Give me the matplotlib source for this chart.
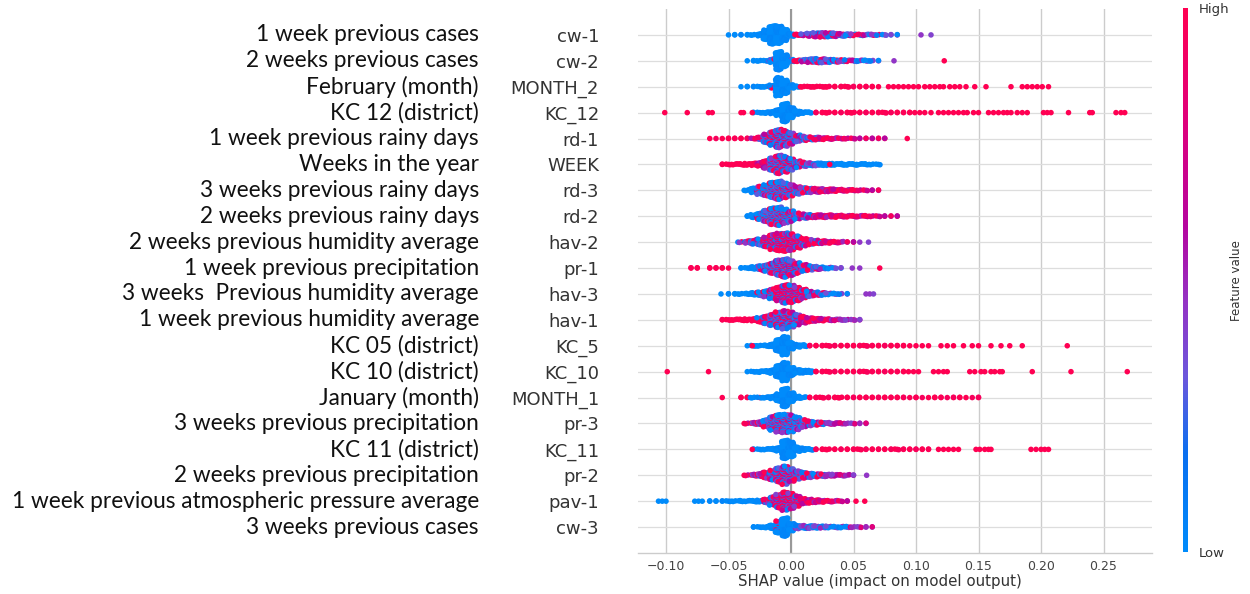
import numpy as np
import matplotlib
matplotlib.use("Agg")
import matplotlib.pyplot as plt
from matplotlib.colors import LinearSegmentedColormap, Normalize
from matplotlib.cm import ScalarMappable
from matplotlib.transforms import blended_transform_factory

# ---------------- data ----------------
features = ["cw-1", "cw-2", "MONTH_2", "KC_12", "rd-1", "WEEK", "rd-3", "rd-2",
            "hav-2", "pr-1", "hav-3", "hav-1", "KC_5", "KC_10", "MONTH_1",
            "pr-3", "KC_11", "pr-2", "pav-1", "cw-3"]
descriptions = ["1 week previous cases", "2 weeks previous cases", "February (month)",
                "KC 12 (district)", "1 week previous rainy days", "Weeks in the year",
                "3 weeks previous rainy days", "2 weeks previous rainy days",
                "2 weeks previous humidity average", "1 week previous precipitation",
                "3 weeks  Previous humidity average", "1 week previous humidity average",
                "KC 05 (district)", "KC 10 (district)", "January (month)",
                "3 weeks previous precipitation", "KC 11 (district)",
                "2 weeks previous precipitation",
                "1 week previous atmospheric pressure average", "3 weeks previous cases"]
tick_values = [-0.10, -0.05, 0.00, 0.05, 0.10, 0.15, 0.20, 0.25]
tick_labels = ["\u22120.10", "\u22120.05", "0.00", "0.05", "0.10", "0.15", "0.20", "0.25"]

# SHAP-value histograms per feature: first bin centre, counts per 0.005 bin,
# feature-value mix per bin (run lengths), and isolated points (shap, feature value)
BIN = 0.005
cw1_start = -0.050
cw1_counts = [1, 2, 2, 2, 3, 8, 32, 61, 58, 38, 9, 4, 6, 10, 14, 15, 14, 12, 9, 7, 6, 5, 4, 4, 3, 3, 2, 2]
cw1_mix = [("b", 11), ("r", 1), ("m", 13), ("v", 3)]
cw1_ex_x = [0.104, 0.112]
cw1_ex_v = [0.45, 0.40]

cw2_start = -0.035
cw2_counts = [1, 2, 3, 3, 12, 61, 40, 8, 5, 8, 12, 14, 13, 11, 9, 7, 6, 5, 4, 4, 3, 2]
cw2_mix = [("b", 4), ("B", 1), ("b", 2), ("B", 1), ("r", 1), ("m", 9), ("v", 4)]
cw2_ex_x = [0.0824, 0.1226]
cw2_ex_v = [0.45, 1.0]

m2_start = -0.040
m2_counts = [1, 2, 2, 3, 3, 10, 61, 45, 12, 4, 3, 3, 3, 3, 3, 2, 2, 3, 2, 2, 2, 2, 1]
m2_mix = [("b", 5), ("B", 1), ("b", 4), ("r", 13)]
m2_ex_x = [0.078, 0.082, 0.086, 0.090, 0.094, 0.098, 0.102, 0.107, 0.111, 0.115, 0.119,
           0.122, 0.127, 0.131, 0.135, 0.140, 0.147, 0.156, 0.176, 0.185, 0.189, 0.193,
           0.197, 0.201, 0.206]
m2_ex_v = [1.0] * 25

kc12_start = -0.030
kc12_counts = [2, 3, 5, 8, 20, 61, 35, 12, 6, 4, 2, 2, 3, 2, 2, 2, 3, 2, 2, 2, 2, 3, 2, 2, 2, 2]
kc12_mix = [("b", 10), ("r", 16)]
kc12_ex_x = [-0.101, -0.083, -0.066, -0.063, -0.040, -0.038, -0.031, 0.099, 0.103, 0.107,
             0.112, 0.118, 0.122, 0.126, 0.130, 0.134, 0.138, 0.141, 0.146, 0.150, 0.158,
             0.162, 0.166, 0.170, 0.173, 0.176, 0.181, 0.185, 0.189, 0.202, 0.205, 0.208,
             0.222, 0.239, 0.241, 0.260, 0.264, 0.267]
kc12_ex_v = [1.0] * 38

rd1_start = -0.065
rd1_counts = [1, 1, 1, 2, 2, 2, 2, 3, 8, 28, 45, 61, 52, 38, 22, 14, 10, 9,
              7, 5, 4, 3, 3, 3, 2, 2, 2, 2, 2]
rd1_mix = [("r", 7), ("R", 1), ("m", 10), ("q", 11)]
rd1_ex_x = [0.093]
rd1_ex_v = [1.0]

week_start = -0.055
week_counts = [2, 3, 4, 5, 6, 8, 12, 25, 42, 61, 52, 38, 22, 14, 10, 9, 8, 7, 6, 6, 5, 5, 4, 4, 3, 3]
week_mix = [("r", 6), ("q", 2), ("m", 6), ("v", 2), ("b", 10)]
week_ex_x = [0.031]
week_ex_v = [1.0]

rd3_start = -0.035
rd3_counts = [4, 15, 27, 37, 52, 61, 50, 38, 25, 18, 15, 13, 11, 9, 8, 6, 5, 4, 3, 3, 2, 2]
rd3_mix = [("b", 2), ("n", 5), ("m", 4), ("q", 11)]
rd3_ex_x = []
rd3_ex_v = []

rd2_start = -0.035
rd2_counts = [2, 10, 22, 38, 55, 61, 48, 35, 20, 14, 11, 9, 9, 8, 7, 6, 5, 5, 4, 4, 3, 3, 2, 2, 2]
rd2_mix = [("b", 2), ("n", 6), ("m", 3), ("q", 14)]
rd2_ex_x = []
rd2_ex_v = []

hav2_start = -0.040
hav2_counts = [3, 8, 13, 20, 32, 50, 58, 61, 55, 40, 25, 17, 12, 9, 7, 5, 4, 2, 2]
hav2_mix = [("m", 4), ("R", 10), ("q", 5)]
hav2_ex_x = [0.055, 0.062]
hav2_ex_v = [0.45, 0.40]

pr1_start = -0.080
pr1_counts = [2, 2, 0, 2, 2, 2, 1, 0, 2, 3, 8, 14, 22, 35, 52, 61, 50, 35, 22, 15, 10, 7, 5, 3, 2]
pr1_mix = [("r", 8), ("b", 3), ("m", 10), ("v", 4)]
pr1_ex_x = [0.049, 0.055, 0.071]
pr1_ex_v = [0.45, 0.45, 1.0]

hav3_start = -0.050
hav3_counts = [2, 2, 3, 4, 8, 12, 20, 32, 45, 61, 58, 45, 30, 18, 12, 9, 6, 4, 3, 2]
hav3_mix = [("b", 5), ("n", 3), ("R", 5), ("m", 3), ("v", 4)]
hav3_ex_x = [-0.056, 0.060, 0.063, 0.066]
hav3_ex_v = [0.0, 0.45, 0.45, 0.40]

hav1_start = -0.055
hav1_counts = [2, 3, 4, 5, 6, 8, 15, 25, 38, 52, 61, 50, 35, 22, 14, 10, 8, 6, 5, 4, 3, 3, 2]
hav1_mix = [("r", 6), ("R", 2), ("m", 5), ("q", 5), ("P", 5)]
hav1_ex_x = []
hav1_ex_v = []

kc5_start = -0.035
kc5_counts = [1, 3, 3, 5, 10, 40, 61, 22, 9, 6, 2, 2, 2, 3, 2, 2, 2, 2, 2, 3, 2, 2, 2, 2, 2, 2]
kc5_mix = [("b", 10), ("r", 16)]
kc5_ex_x = [-0.031, 0.095, 0.100, 0.105, 0.110, 0.120, 0.125, 0.130, 0.138, 0.145, 0.150,
            0.160, 0.168, 0.175, 0.185, 0.221]
kc5_ex_v = [1.0] * 16

kc10_start = -0.035
kc10_counts = [1, 3, 5, 6, 12, 40, 61, 28, 12, 10, 8, 2, 2, 3, 2, 2, 2, 2, 2, 3, 2, 2, 2, 2, 2, 2]
kc10_mix = [("b", 11), ("r", 15)]
kc10_ex_x = [-0.099, -0.066, 0.094, 0.098, 0.102, 0.114, 0.118, 0.122, 0.125, 0.143, 0.147,
             0.152, 0.155, 0.160, 0.163, 0.167, 0.169, 0.193, 0.224, 0.269]
kc10_ex_v = [1.0] * 20

m1_start = -0.040
m1_counts = [2, 2, 3, 3, 4, 8, 25, 61, 30, 8, 4,
             2, 2, 3, 2, 2, 3, 2, 2, 2, 2, 2, 2, 2, 2, 2, 2, 1, 2, 1, 1, 2, 2, 1, 2, 2, 1, 1, 2]
m1_mix = [("r", 2), ("B", 2), ("b", 7), ("r", 28)]
m1_ex_x = [-0.055]
m1_ex_v = [1.0]

pr3_start = -0.035
pr3_counts = [3, 6, 10, 24, 45, 58, 61, 57, 42, 25, 16, 11, 8, 6, 5, 4, 3, 3, 2, 2]
pr3_mix = [("R", 3), ("n", 6), ("m", 4), ("P", 7)]
pr3_ex_x = []
pr3_ex_v = []

kc11_start = -0.030
kc11_counts = [2, 3, 4, 6, 12, 61, 50, 14, 8, 5,
               2, 2, 3, 2, 2, 2, 2, 3, 2, 2, 2, 2, 2, 3, 2, 2, 2, 2, 2]
kc11_mix = [("b", 10), ("r", 19)]
kc11_ex_x = [-0.031, 0.118, 0.122, 0.126, 0.130, 0.134, 0.148, 0.151, 0.155, 0.158, 0.160,
             0.192, 0.196, 0.200, 0.203, 0.206]
kc11_ex_v = [1.0] * 16

pr2_start = -0.035
pr2_counts = [3, 6, 10, 20, 32, 48, 61, 42, 28, 20, 15, 11, 9, 7, 6, 5, 4, 2]
pr2_mix = [("R", 4), ("m", 9), ("P", 5)]
pr2_ex_x = [0.0605]
pr2_ex_v = [0.45]

pav1_start = -0.065
pav1_counts = [2, 2, 2, 3, 3, 4, 4, 5, 6, 12, 28, 45, 61, 52, 35, 18, 13, 9, 7, 5, 4, 3, 2]
pav1_mix = [("b", 9), ("m", 2), ("R", 4), ("q", 8)]
pav1_ex_x = [-0.106, -0.103, -0.100, -0.077, -0.074, -0.071, 0.052, 0.059]
pav1_ex_v = [0.0, 0.0, 0.0, 0.0, 0.0, 0.0, 1.0, 1.0]

cw3_start = -0.030
cw3_counts = [2, 3, 5, 12, 40, 61, 25, 12, 10, 9, 8, 7, 6, 5, 5, 4, 3, 3, 2, 2]
cw3_mix = [("b", 4), ("B", 1), ("b", 2), ("v", 9), ("P", 4)]
cw3_ex_x = []
cw3_ex_v = []

rows = [
    (cw1_start, cw1_counts, cw1_mix, cw1_ex_x, cw1_ex_v),
    (cw2_start, cw2_counts, cw2_mix, cw2_ex_x, cw2_ex_v),
    (m2_start, m2_counts, m2_mix, m2_ex_x, m2_ex_v),
    (kc12_start, kc12_counts, kc12_mix, kc12_ex_x, kc12_ex_v),
    (rd1_start, rd1_counts, rd1_mix, rd1_ex_x, rd1_ex_v),
    (week_start, week_counts, week_mix, week_ex_x, week_ex_v),
    (rd3_start, rd3_counts, rd3_mix, rd3_ex_x, rd3_ex_v),
    (rd2_start, rd2_counts, rd2_mix, rd2_ex_x, rd2_ex_v),
    (hav2_start, hav2_counts, hav2_mix, hav2_ex_x, hav2_ex_v),
    (pr1_start, pr1_counts, pr1_mix, pr1_ex_x, pr1_ex_v),
    (hav3_start, hav3_counts, hav3_mix, hav3_ex_x, hav3_ex_v),
    (hav1_start, hav1_counts, hav1_mix, hav1_ex_x, hav1_ex_v),
    (kc5_start, kc5_counts, kc5_mix, kc5_ex_x, kc5_ex_v),
    (kc10_start, kc10_counts, kc10_mix, kc10_ex_x, kc10_ex_v),
    (m1_start, m1_counts, m1_mix, m1_ex_x, m1_ex_v),
    (pr3_start, pr3_counts, pr3_mix, pr3_ex_x, pr3_ex_v),
    (kc11_start, kc11_counts, kc11_mix, kc11_ex_x, kc11_ex_v),
    (pr2_start, pr2_counts, pr2_mix, pr2_ex_x, pr2_ex_v),
    (pav1_start, pav1_counts, pav1_mix, pav1_ex_x, pav1_ex_v),
    (cw3_start, cw3_counts, cw3_mix, cw3_ex_x, cw3_ex_v),
]

# feature-value compositions used by the mix codes
CODES = {
    "b": [0.0, 0.02, 0.0, 0.05],
    "r": [1.0, 0.98, 1.0, 0.95],
    "m": [0.0, 1.0, 0.45, 0.9, 0.1, 0.6, 0.3],
    "R": [1.0, 0.55, 0.95, 0.05, 1.0, 0.7, 0.4],
    "n": [0.0, 0.45, 0.05, 1.0, 0.3, 0.0, 0.6],
    "B": [0.0, 0.0, 1.0, 0.05, 0.0, 0.4, 0.0],
    "q": [1.0, 0.6, 0.85, 0.5, 0.95, 0.7],
    "v": [0.0, 0.4, 0.1, 0.5, 0.0, 0.35],
    "P": [0.5, 0.6, 0.4, 0.8, 0.45],
}

# ---------------- drawing ----------------
cmap = LinearSegmentedColormap.from_list("shap_red_blue", [
    (0.0, "#008bfb"), (0.18, "#0a6ff0"), (0.32, "#6b57dc"), (0.46, "#9433c4"),
    (0.60, "#b5059f"), (0.80, "#e0007a"), (1.0, "#ff0052")])

W, H = 1250, 594
fig = plt.figure(figsize=(W / 100, H / 100), dpi=100)
ax = fig.add_axes([638 / W, 1 - 553 / H, (1152 - 638) / W, (553 - 9) / H])

HALF = 0.36
GOLD = 0.6180339887
n_feat = len(features)


def beeswarm(start, counts, mix, ex_x, ex_v):
    codes = []
    for c, r in mix:
        codes += [c] * r
    while len(codes) < len(counts):
        codes.append(codes[-1])
    max_layer = max(int(np.ceil((n - 1) / 2)) for n in counts if n > 0)
    xs, ys, vs = [], [], []
    for i, n in enumerate(counts):
        cyc = CODES[codes[i]]
        x = start + i * BIN
        for k in range(n):
            # spread the points of a bin evenly across the bin width
            off = ((k * GOLD + 0.5 * i) % 1.0 - 0.5) * BIN if n > 2 else 0.0
            xs.append(x + off)
            ys.append(np.ceil(k / 2) * (1 if k % 2 else -1))
            vs.append(cyc[(k + 3 * i) % len(cyc)])
    ys = list(np.array(ys) * HALF / (max_layer + 1))
    xs += list(ex_x)
    ys += [0.0] * len(ex_x)
    vs += list(ex_v)
    return np.array(xs), np.array(ys), np.array(vs)


for idx, row in enumerate(rows):
    pos = n_feat - 1 - idx
    x, y, v = beeswarm(*row)
    ax.axhline(pos, color="#dddddd", lw=0.9, zorder=1)
    ax.scatter(x, pos + y, c=v, cmap=cmap, vmin=0, vmax=1, s=16, linewidths=0,
               zorder=3, rasterized=True)

ax.axvline(0, color="#999999", lw=1.5, zorder=2)
ax.set_xlim(-0.1224, 0.2888)
ax.set_ylim(-1, n_feat)
ax.set_xticks(tick_values)
ax.set_xticklabels(tick_labels, fontsize=9, color="#444444", family="DejaVu Sans")
ax.set_yticks(range(n_feat))
ax.set_yticklabels(features[::-1], fontsize=13, color="#333333", family="DejaVu Sans")
ax.tick_params(axis="y", length=0, pad=28)
ax.tick_params(axis="x", length=0, pad=5)
ax.grid(axis="x", color="#cccccc", lw=1.0, zorder=0)
ax.set_axisbelow(True)
for s in ["top", "right", "left"]:
    ax.spines[s].set_visible(False)
ax.spines["bottom"].set_color("#cccccc")
ax.spines["bottom"].set_linewidth(1.0)
ax.set_xlabel("SHAP value (impact on model output)", fontsize=10.8, color="#333333",
              family="DejaVu Sans")
ax.xaxis.set_label_coords((880 - 638) / (1152 - 638), -0.038)

# long descriptions on the left
tr = blended_transform_factory(fig.transFigure, ax.transData)
for idx, d in enumerate(descriptions):
    ax.text(479 / W, n_feat - 1 - idx, d, transform=tr, ha="right", va="center",
            fontsize=16.3, family="Lato", color="#111111", clip_on=False)

# colour bar
cax = fig.add_axes([1183 / W, 1 - 552 / H, 5 / W, (552 - 8) / H])
cb = fig.colorbar(ScalarMappable(norm=Normalize(0, 1), cmap=cmap), cax=cax, ticks=[0, 1])
cb.set_ticklabels(["Low", "High"])
cb.outline.set_visible(False)
cax.tick_params(length=0, labelsize=9.5, pad=8, colors="#333333")
fig.text(1236 / W, 1 - 281 / H, "Feature value", rotation=90, ha="center", va="center",
         fontsize=8.5, color="#333333", family="DejaVu Sans")

fig.savefig("out.png", dpi=100)
